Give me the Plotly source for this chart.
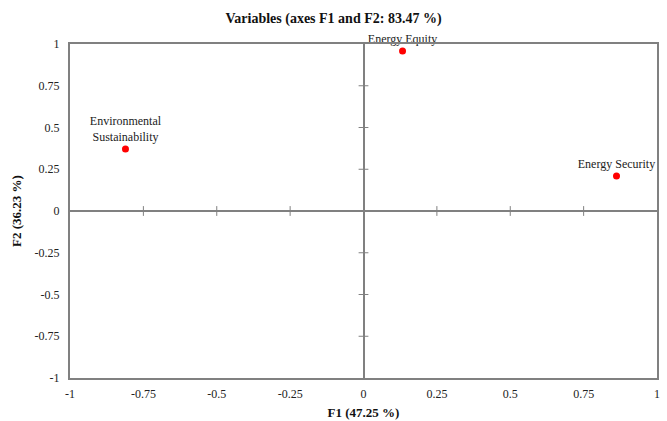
import plotly.graph_objects as go

# variable coordinates on the first two factors
variables = ["Energy Equity", "Environmental<br>Sustainability", "Energy Security"]
f1 = [0.133, -0.811, 0.862]
f2 = [0.958, 0.371, 0.21]

tick_vals = [-1, -0.75, -0.5, -0.25, 0, 0.25, 0.5, 0.75, 1]
tick_text = ["-1", "-0.75", "-0.5", "-0.25", "0", "0.25", "0.5", "0.75", "1"]
inner_ticks = [-0.75, -0.5, -0.25, 0.25, 0.5, 0.75]

font = "Liberation Serif, Times New Roman, serif"
grey = "#808080"

fig = go.Figure()

# small tick marks crossing the zero lines
fig.add_trace(go.Scatter(
    x=inner_ticks, y=[0] * len(inner_ticks), mode="markers",
    marker=dict(symbol="line-ns", size=7, line=dict(color=grey, width=1)),
    hoverinfo="skip", showlegend=False,
))
fig.add_trace(go.Scatter(
    x=[0] * len(inner_ticks), y=inner_ticks, mode="markers",
    marker=dict(symbol="line-ew", size=7, line=dict(color=grey, width=1)),
    hoverinfo="skip", showlegend=False,
))

fig.add_trace(go.Scatter(
    x=f1, y=f2, mode="markers+text",
    text=variables, textposition="top center",
    textfont=dict(family=font, size=12, color="#222"),
    marker=dict(color="#ff0000", size=7),
    cliponaxis=False, showlegend=False,
))

axis = dict(
    range=[-1, 1], tickvals=tick_vals, ticktext=tick_text,
    showgrid=False, zeroline=True, zerolinecolor=grey, zerolinewidth=2,
    showline=True, linecolor=grey, linewidth=2, mirror=True,
    ticks="", tickfont=dict(family=font, size=12, color="#222"),
    automargin=False,
)

fig.update_layout(
    width=667, height=421,
    margin=dict(l=70, r=10, t=44, b=43),
    plot_bgcolor="white", paper_bgcolor="white",
    title=dict(text="<b>Variables (axes F1 and F2: 83.47 %)</b>",
               x=0.5, xanchor="center", y=0.957, yanchor="middle",
               font=dict(family=font, size=14, color="#111")),
    xaxis=dict(axis, ticklabelstandoff=4,
               title=dict(text="<b>F1 (47.25 %)</b>", standoff=7,
                          font=dict(family=font, size=13, color="#111"))),
    yaxis=dict(axis, ticklabelstandoff=6,
               title=dict(text="<b>F2 (36.23 %)</b>", standoff=10,
                          font=dict(family=font, size=13, color="#111"))),
)

fig.write_html("out.html", config={"displayModeBar": False},
               post_script="document.body.style.margin='0';")
